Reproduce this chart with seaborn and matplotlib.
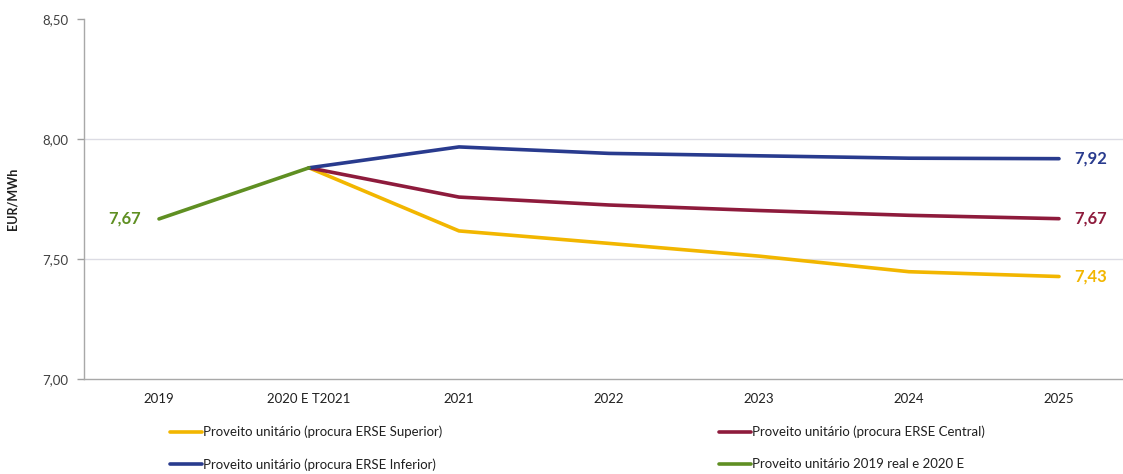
import matplotlib
matplotlib.use("Agg")
import matplotlib.pyplot as plt
import seaborn as sns
import pandas as pd
from matplotlib.lines import Line2D

categories = ["2019", "2020 E T2021", "2021", "2022", "2023", "2024", "2025"]

superior_cats = ["2020 E T2021", "2021", "2022", "2023", "2024", "2025"]
superior_vals = [7.88, 7.617, 7.565, 7.512, 7.447, 7.427]

central_cats = ["2020 E T2021", "2021", "2022", "2023", "2024", "2025"]
central_vals = [7.88, 7.758, 7.725, 7.702, 7.682, 7.668]

inferior_cats = ["2020 E T2021", "2021", "2022", "2023", "2024", "2025"]
inferior_vals = [7.88, 7.967, 7.940, 7.930, 7.920, 7.918]

real_cats = ["2019", "2020 E T2021"]
real_vals = [7.667, 7.88]

series_names = [
    "Proveito unitário (procura ERSE Superior)",
    "Proveito unitário (procura ERSE Central)",
    "Proveito unitário (procura ERSE Inferior)",
    "Proveito unitário 2019 real e 2020 E",
]
colors = ["#F2B600", "#8E1B3C", "#293B8E", "#5F8F22"]

y_ticks = [7.00, 7.50, 8.00, 8.50]

sns.set_theme(style="white")
plt.rcParams["font.family"] = ["Lato", "DejaVu Sans"]

W, H = 1123, 474
fig = plt.figure(figsize=(W / 100, H / 100), dpi=100)
left_px, top_px, bottom_px = 84, 19, 379
ax_w_px = W - left_px
ax = fig.add_axes([left_px / W, 1 - bottom_px / H, ax_w_px / W, (bottom_px - top_px) / H])

frames = []
for name, cats, vals in [
    (series_names[0], superior_cats, superior_vals),
    (series_names[1], central_cats, central_vals),
    (series_names[2], inferior_cats, inferior_vals),
    (series_names[3], real_cats, real_vals),
]:
    frames.append(pd.DataFrame({"serie": name, "cat": cats, "valor": vals}))
df = pd.concat(frames, ignore_index=True)
df["x"] = df["cat"].map({c: i for i, c in enumerate(categories)})

palette = dict(zip(series_names, colors))
for name in series_names:
    sub = df[df["serie"] == name]
    sns.lineplot(data=sub, x="x", y="valor", color=palette[name], linewidth=2.6,
                 ax=ax, legend=False, solid_capstyle="round", solid_joinstyle="round")

# data labels
ax.text(-0.12, real_vals[0], f"{real_vals[0]:.2f}".replace(".", ","), color=colors[3],
        ha="right", va="center", fontsize=12, fontweight="bold")
for vals, col in [(inferior_vals, colors[2]), (central_vals, colors[1]), (superior_vals, colors[0])]:
    ax.text(6.1, vals[-1], f"{vals[-1]:.2f}".replace(".", ","), color=col,
            ha="left", va="center", fontsize=12, fontweight="bold")

ax.set_xlim(-0.5, -0.5 + ax_w_px / 150)
ax.set_ylim(7.0, 8.5)
ax.set_yticks(y_ticks)
ax.set_yticklabels([f"{v:.2f}".replace(".", ",") for v in y_ticks], color="#404040", fontsize=9.5)
ax.set_xticks(range(len(categories)))
ax.set_xticklabels(categories, color="#202020", fontsize=9.5)
ax.set_xticks([i + 0.5 for i in range(len(categories) - 1)], minor=True)
ax.tick_params(axis="x", which="major", length=0, pad=10)
ax.tick_params(axis="x", which="minor", length=5, color="#A0A0A0", width=1, direction="out")
ax.tick_params(axis="y", length=5, color="#A0A0A0", width=1, direction="out", pad=6, left=True)

for v in y_ticks[1:3]:
    ax.axhline(v, color="#DCDCE4", linewidth=1, zorder=0)

for s in ["top", "right"]:
    ax.spines[s].set_visible(False)
for s in ["left", "bottom"]:
    ax.spines[s].set_color("#A8A8A8")
    ax.spines[s].set_linewidth(1)

ax.set_xlabel("")
ax.set_ylabel("EUR/MWh", fontsize=9, fontweight="bold", color="#202020")
ax.yaxis.set_label_coords((18 - left_px) / ax_w_px, 0.5)

handles = [Line2D([0], [0], color=c, linewidth=2.6) for c in colors]
order = [0, 2, 1, 3]
leg = fig.legend([handles[i] for i in order], [series_names[i] for i in order],
                 loc="upper left", bbox_to_anchor=(158 / W, 1 - 414 / H), ncol=2,
                 frameon=False, fontsize=9.5, handlelength=2.4, handletextpad=0.1,
                 columnspacing=21, labelspacing=1.5)
for t in leg.get_texts():
    t.set_color("#202020")

fig.savefig("out.png", dpi=100)
